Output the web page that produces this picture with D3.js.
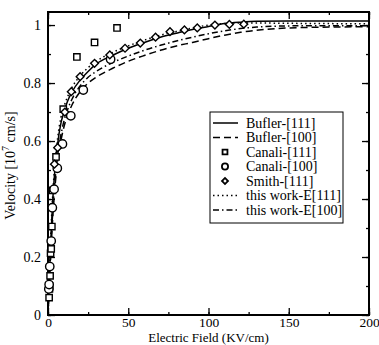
<!DOCTYPE html>
<html>
<head>
<meta charset="utf-8">
<script src="https://cdn.jsdelivr.net/npm/d3@7"></script>
<style>
  body { margin: 0; background: #fff; }
  svg text { font-family: "Liberation Serif", "Times New Roman", serif; fill: #000; }
</style>
</head>
<body>
<svg id="chart" width="379" height="345"></svg>
<script>
// curves (E in KV/cm, velocity in 1e7 cm/s)
const curveE = [0, 1, 2, 3, 4, 5, 6, 8, 10, 12, 15, 20, 25, 30, 40, 50, 60, 70, 80, 90, 100, 110, 120, 130, 150, 175, 200]
const buflerE111 = [0, 0.15, 0.29, 0.40, 0.48, 0.54, 0.59, 0.66, 0.70, 0.735, 0.77, 0.81, 0.84, 0.865, 0.895, 0.92, 0.94, 0.958, 0.972, 0.985, 0.995, 1.005, 1.01, 1.013, 1.014, 1.014, 1.014]
const buflerE100 = [0, 0.12, 0.24, 0.34, 0.42, 0.48, 0.53, 0.60, 0.65, 0.685, 0.725, 0.77, 0.80, 0.82, 0.85, 0.875, 0.895, 0.913, 0.928, 0.94, 0.953, 0.965, 0.975, 0.982, 0.99, 0.993, 0.994]
const workE111 = [0, 0.16, 0.31, 0.42, 0.50, 0.56, 0.61, 0.68, 0.72, 0.75, 0.785, 0.825, 0.853, 0.875, 0.905, 0.928, 0.948, 0.965, 0.978, 0.99, 1.0, 1.005, 1.007, 1.007, 1.006, 1.005, 1.004]
const workE100 = [0, 0.13, 0.26, 0.36, 0.44, 0.50, 0.55, 0.62, 0.67, 0.705, 0.745, 0.79, 0.82, 0.84, 0.87, 0.893, 0.913, 0.93, 0.945, 0.958, 0.97, 0.98, 0.988, 0.993, 0.997, 0.998, 0.998]

// measured points
const canali111E = [0.7, 0.9, 1.0, 1.3, 1.6, 2.0, 2.4, 2.8, 5.0, 9.5, 18, 29, 43]
const canali111V = [0.06, 0.09, 0.10, 0.135, 0.213, 0.228, 0.305, 0.43, 0.545, 0.71, 0.89, 0.94, 0.99]
const canali100E = [0.5, 0.7, 1.1, 2.0, 2.7, 3.8, 5.8, 9.0, 14.2, 22, 39]
const canali100V = [0.09, 0.105, 0.167, 0.255, 0.37, 0.434, 0.506, 0.59, 0.687, 0.776, 0.882]
const smithE = [4, 6, 10.5, 14.5, 20, 29, 38.5, 48, 57.5, 67, 76, 85, 93, 104, 113, 122]
const smithV = [0.52, 0.577, 0.70, 0.77, 0.822, 0.868, 0.897, 0.92, 0.938, 0.958, 0.977, 0.983, 0.99, 1.0, 1.002, 1.003]

const xTicks = [0, 50, 100, 150, 200]
const yTicks = [0, 0.2, 0.4, 0.6, 0.8, 1]
const yTickLabels = ['0', '0.2', '0.4', '0.6', '0.8', '1']

const legendLabels = ['Bufler-[111]', 'Bufler-[100]', 'Canali-[111]', 'Canali-[100]', 'Smith-[111]', 'this work-E[111]', 'this work-E[100]']

const svg = d3.select('#chart')
const plot = { left: 48, right: 369, top: 12, bottom: 315 }

const x = d3.scaleLinear().domain([0, 200]).range([plot.left, plot.right])
const y = d3.scaleLinear().domain([0, 1.045]).range([plot.bottom, plot.top])

// axes with inward ticks
const minorX = d3.range(0, 201, 25)
const minorY = d3.range(0, 1.01, 0.1)

svg.append('g').attr('transform', `translate(0,${plot.bottom})`)
  .call(d3.axisBottom(x).tickValues(minorX).tickSize(-3).tickFormat(''))
const xAxisG = svg.append('g').attr('transform', `translate(0,${plot.bottom})`)
  .call(d3.axisBottom(x).tickValues(xTicks).tickSize(-7).tickPadding(2).tickFormat(d3.format('d')))
svg.append('g').attr('transform', `translate(0,${plot.top})`)
  .call(d3.axisTop(x).tickValues(minorX).tickSize(-3).tickFormat(''))
svg.append('g').attr('transform', `translate(0,${plot.top})`)
  .call(d3.axisTop(x).tickValues(xTicks).tickSize(-7).tickFormat(''))

svg.append('g').attr('transform', `translate(${plot.left},0)`)
  .call(d3.axisLeft(y).tickValues(minorY).tickSize(-3).tickFormat(''))
svg.append('g').attr('transform', `translate(${plot.left},0)`)
  .call(d3.axisLeft(y).tickValues(yTicks).tickSize(-7).tickPadding(7).tickFormat((d, i) => yTickLabels[i]))
svg.append('g').attr('transform', `translate(${plot.right},0)`)
  .call(d3.axisRight(y).tickValues(minorY).tickSize(-3).tickFormat(''))
svg.append('g').attr('transform', `translate(${plot.right},0)`)
  .call(d3.axisRight(y).tickValues(yTicks).tickSize(-7).tickFormat(''))

svg.selectAll('.domain').remove()
svg.selectAll('.tick line').attr('stroke', '#000').attr('stroke-width', 1.3)
svg.selectAll('.tick text').style('font-size', '14px')
xAxisG.selectAll('.tick text').style('font-size', '13.5px')

svg.append('rect')
  .attr('x', plot.left).attr('y', plot.top)
  .attr('width', plot.right - plot.left).attr('height', plot.bottom - plot.top)
  .attr('fill', 'none').attr('stroke', '#000').attr('stroke-width', 2)

// curves
const line = d3.line().x(d => x(d[0])).y(d => y(d[1])).curve(d3.curveMonotoneX)
const curves = [
  { v: buflerE111, dash: null },
  { v: buflerE100, dash: '7,4' },
  { v: workE111, dash: '1.5,3' },
  { v: workE100, dash: '6,3,1.5,3' }
]
curves.forEach(c => {
  svg.append('path')
    .datum(curveE.map((e, i) => [e, c.v[i]]))
    .attr('d', line)
    .attr('fill', 'none')
    .attr('stroke', '#000')
    .attr('stroke-width', 1.5)
    .attr('stroke-dasharray', c.dash)
})

// markers (diamond = square turned 45deg)
const sq = d3.symbol().type(d3.symbolSquare).size(40)
const ci = d3.symbol().type(d3.symbolCircle).size(55)
const di = d3.symbol().type(d3.symbolSquare).size(30)

function drawMarkers(E, V, sym, rot) {
  svg.append('g').selectAll('path')
    .data(E.map((e, i) => [e, V[i]]))
    .join('path')
    .attr('d', sym)
    .attr('transform', d => `translate(${x(d[0])},${y(d[1])}) rotate(${rot})`)
    .attr('fill', '#fff')
    .attr('stroke', '#000')
    .attr('stroke-width', 1.4)
}
drawMarkers(canali111E, canali111V, sq, 0)
drawMarkers(canali100E, canali100V, ci, 0)
drawMarkers(smithE, smithV, di, 45)

// axis titles
svg.append('text')
  .attr('x', (plot.left + plot.right) / 2).attr('y', 342)
  .attr('text-anchor', 'middle')
  .style('font-size', '13px')
  .text('Electric Field (KV/cm)')

const yl = svg.append('text')
  .attr('transform', `translate(15,${(plot.top + plot.bottom) / 2 + 2}) rotate(-90)`)
  .attr('text-anchor', 'middle')
  .style('font-size', '14px')
yl.append('tspan').text('Velocity [10')
yl.append('tspan').attr('dy', -6).style('font-size', '10px').text('7')
yl.append('tspan').attr('dy', 6).text(' cm/s]')

// legend
const lg = svg.append('g')
lg.append('rect')
  .attr('x', 210).attr('y', 112).attr('width', 133).attr('height', 111)
  .attr('fill', '#fff').attr('stroke', '#000').attr('stroke-width', 1)

const rowY = d3.range(legendLabels.length).map(i => 123 + i * 14.5)
const lineRows = { 0: null, 1: '7,4', 5: '1.5,3', 6: '6,3,1.5,3' }
const symRows = {
  2: [d3.symbol().type(d3.symbolSquare).size(24), 0],
  3: [d3.symbol().type(d3.symbolCircle).size(30), 0],
  4: [d3.symbol().type(d3.symbolSquare).size(18), 45]
}

legendLabels.forEach((lab, i) => {
  const yy = rowY[i]
  if (i in lineRows) {
    lg.append('line')
      .attr('x1', 213).attr('x2', 238).attr('y1', yy).attr('y2', yy)
      .attr('stroke', '#000').attr('stroke-width', 1.5)
      .attr('stroke-dasharray', lineRows[i])
  } else {
    lg.append('path')
      .attr('d', symRows[i][0])
      .attr('transform', `translate(225,${yy}) rotate(${symRows[i][1]})`)
      .attr('fill', '#fff').attr('stroke', '#000').attr('stroke-width', 1.8)
  }
  lg.append('text')
    .attr('x', 246).attr('y', yy + 4.5)
    .style('font-size', '14px')
    .text(lab)
})
</script>
</body>
</html>
